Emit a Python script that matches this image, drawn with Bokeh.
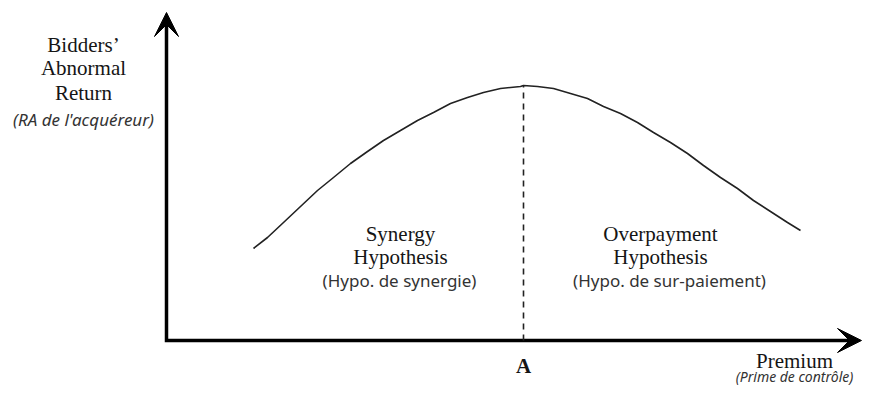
from bokeh.plotting import figure
from bokeh.models import Range1d, Arrow, VeeHead
from bokeh.core.properties import value
from bokeh.embed import file_html
from bokeh.resources import INLINE

# ---- data (units: premium / abnormal return, arbitrary) ----
premium = [87, 101, 117, 134, 151, 167, 184, 201, 217, 234, 251, 267, 284, 301, 317, 334, 354,
           357,
           371, 387, 404, 421, 437, 454, 471, 487, 504, 521, 537, 554, 571, 587, 604, 621, 634]
abnormal_return = [92, 103, 118, 134, 150, 163, 177, 189, 200, 210, 220, 228, 237, 243, 248, 252, 254,
                   255,
                   254, 252, 247, 242, 234, 227, 218, 208, 198, 187, 175, 163, 152, 140, 129, 118, 110]

y_title_lines = ["Bidders\u2019", "Abnormal", "Return"]
y_subtitle = "(RA de l'acqu\u00e9reur)"
x_title = "Premium"
x_subtitle = "(Prime de contr\u00f4le)"
peak_label = "A"
left_region = ["Synergy", "Hypothesis"]
left_region_sub = "(Hypo. de synergie)"
right_region = ["Overpayment", "Hypothesis"]
right_region_sub = "(Hypo. de sur-paiement)"

# ---- layout ----
W, H = 863, 385
X_MIN, Y_MAX = -166, 340
X_MAX, Y_MIN = X_MIN + W, Y_MAX - H
X_TIP, Y_TIP = 695, 328

SERIF = value("Liberation Serif")
SANS = value("Noto Sans")
SERIF_SIZE = "21px"
SANS_SIZE = "17px"
SERIF_COLOR = "#151515"
SANS_COLOR = "#333333"

p = figure(width=W, height=H, x_range=Range1d(X_MIN, X_MAX), y_range=Range1d(Y_MIN, Y_MAX),
           x_axis_type=None, y_axis_type=None, toolbar_location=None, output_backend="svg",
           min_border=0, outline_line_color=None)
p.grid.visible = False
p.background_fill_color = "white"

# axes as an L with arrow heads
p.line(x=[0, 0, X_TIP - 12], y=[Y_TIP - 12, 0, 0], line_width=3.5, line_color="black",
       line_join="miter")
for xs, ys, xe, ye in [(0, Y_TIP - 14, 0, Y_TIP), (X_TIP - 14, 0, X_TIP, 0)]:
    p.add_layout(Arrow(x_start=xs, y_start=ys, x_end=xe, y_end=ye, line_width=3.5,
                       line_color="black",
                       end=VeeHead(size=24, fill_color="black", line_color="black", line_width=1)))

# curve
p.line(x=premium, y=abnormal_return, line_width=1.6, line_color="#222222", line_join="round")

# dashed line at the peak
i_peak = max(range(len(abnormal_return)), key=lambda i: abnormal_return[i])
px, py = premium[i_peak], abnormal_return[i_peak]
p.segment(x0=[px], y0=[0], x1=[px], y1=[py], line_width=1.6, line_color="#222222", line_dash="6 5")

# y-axis title
p.text(x=[-83] * 3, y=[295.5, 273, 248], text=y_title_lines, text_font=SERIF, text_font_size=SERIF_SIZE,
       text_align="center", text_baseline="alphabetic", text_color=SERIF_COLOR)
p.text(x=[-83], y=[221], text=[y_subtitle], text_font=SANS, text_font_size=SANS_SIZE,
       text_font_style="italic", text_align="center", text_baseline="alphabetic", text_color=SANS_COLOR)

# x-axis title
p.text(x=[628], y=[-20], text=[x_title], text_font=SERIF, text_font_size=SERIF_SIZE,
       text_align="center", text_baseline="alphabetic", text_color=SERIF_COLOR)
p.text(x=[628], y=[-36], text=[x_subtitle], text_font=SANS, text_font_size="14px",
       text_font_style="italic", text_align="center", text_baseline="alphabetic", text_color=SANS_COLOR)

# peak label
p.text(x=[px], y=[-25], text=[peak_label], text_font=SERIF, text_font_size=SERIF_SIZE,
       text_font_style="bold", text_align="center", text_baseline="alphabetic", text_color=SERIF_COLOR)

# region labels
p.text(x=[234, 234], y=[107, 84], text=left_region, text_font=SERIF, text_font_size=SERIF_SIZE,
       text_align="center", text_baseline="alphabetic", text_color=SERIF_COLOR)
p.text(x=[233], y=[60], text=[left_region_sub], text_font=SANS, text_font_size=SANS_SIZE,
       text_align="center", text_baseline="alphabetic", text_color=SANS_COLOR)
p.text(x=[494, 494], y=[107, 84], text=right_region, text_font=SERIF, text_font_size=SERIF_SIZE,
       text_align="center", text_baseline="alphabetic", text_color=SERIF_COLOR)
p.text(x=[503], y=[60], text=[right_region_sub], text_font=SANS, text_font_size=SANS_SIZE,
       text_align="center", text_baseline="alphabetic", text_color=SANS_COLOR)

open("out.html", "w").write(file_html(p, INLINE))
